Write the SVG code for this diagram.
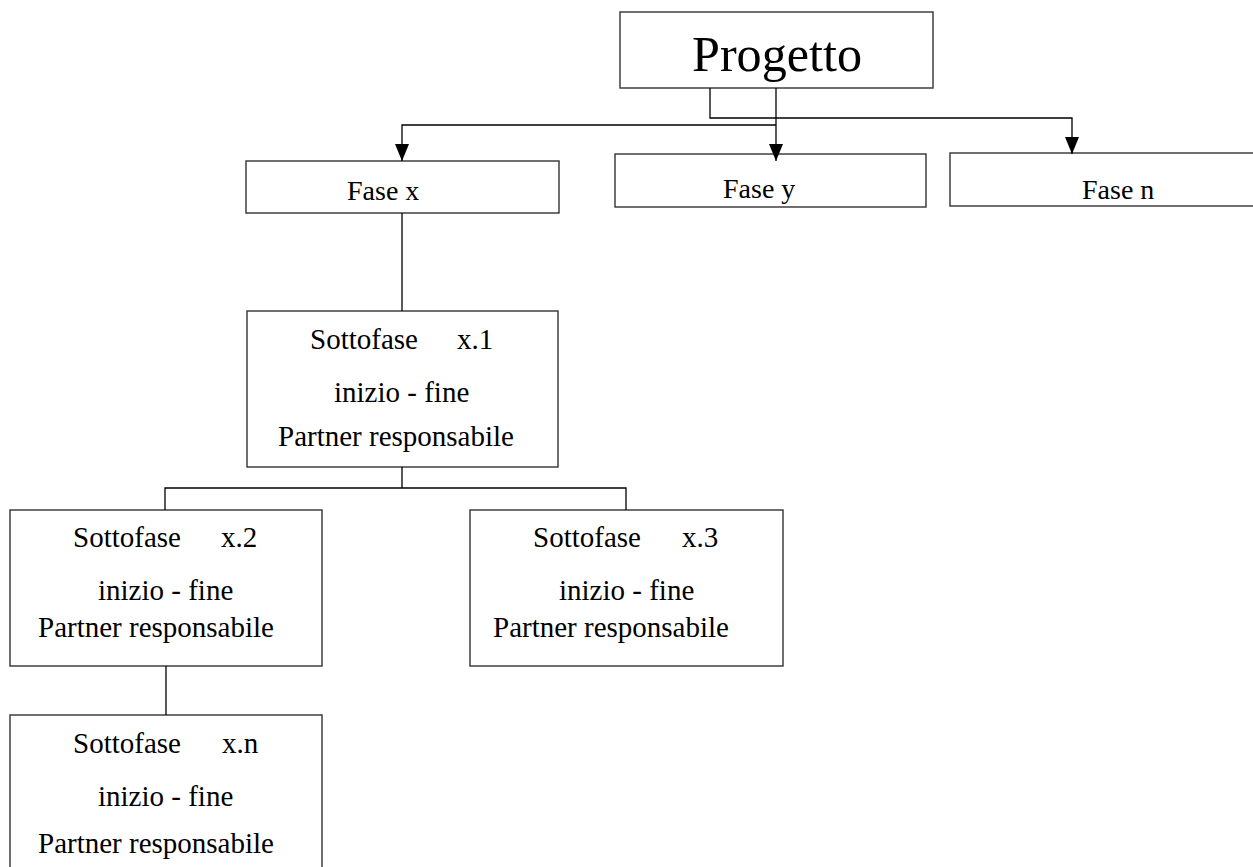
<svg xmlns="http://www.w3.org/2000/svg" width="1253" height="867" viewBox="0 0 1253 867">
<style>
.box{fill:#fff;stroke:#333;stroke-width:1.4}
.t{font-family:"Liberation Serif","Times New Roman",serif;fill:#000;font-size:29px}
.f{font-size:28px}
.p{font-size:51px}
.c{fill:none;stroke:#000;stroke-width:1.3}
</style>
<defs>
<marker id="ah" markerUnits="userSpaceOnUse" markerWidth="18" markerHeight="16" viewBox="0 -8 18 16" refX="17" refY="0" orient="auto">
<path d="M0,-7 L17,0 L0,7 z" fill="#000"/>
</marker>
</defs>
<rect width="1253" height="867" fill="#fff"/>
<g id="nodes">
<g id="progetto"><rect class="box" x="620" y="12" width="313" height="76"/><text class="t p" x="692" y="71" textLength="170" lengthAdjust="spacingAndGlyphs">Progetto</text></g>
<g id="fase-x"><rect class="box" x="246" y="161" width="313" height="52"/><text class="t f" x="347" y="200">Fase x</text></g>
<g id="fase-y"><rect class="box" x="615" y="154" width="311" height="53"/><text class="t f" x="723" y="198">Fase y</text></g>
<g id="fase-n"><rect class="box" x="950" y="153" width="320" height="53"/><text class="t f" x="1082" y="199">Fase n</text></g>
<g id="sottofase-x1"><rect class="box" x="247" y="311" width="311" height="156"/>
<text class="t" x="310" y="349">Sottofase</text><text class="t" x="457" y="349">x.1</text>
<text class="t" x="334" y="402">inizio - fine</text>
<text class="t" x="278" y="446">Partner responsabile</text></g>
<g id="sottofase-x2"><rect class="box" x="10" y="510" width="312" height="156"/>
<text class="t" x="73" y="547">Sottofase</text><text class="t" x="221" y="547">x.2</text>
<text class="t" x="98" y="600">inizio - fine</text>
<text class="t" x="38" y="637">Partner responsabile</text></g>
<g id="sottofase-x3"><rect class="box" x="470" y="510" width="313" height="156"/>
<text class="t" x="533" y="547">Sottofase</text><text class="t" x="682" y="547">x.3</text>
<text class="t" x="559" y="600">inizio - fine</text>
<text class="t" x="493" y="637">Partner responsabile</text></g>
<g id="sottofase-xn"><rect class="box" x="10" y="715" width="312" height="170"/>
<text class="t" x="73" y="753">Sottofase</text><text class="t" x="222" y="753">x.n</text>
<text class="t" x="98" y="806">inizio - fine</text>
<text class="t" x="38" y="853">Partner responsabile</text></g>
</g>
<g id="connectors">
<path class="c" d="M710,88 V118 H1072 V154" marker-end="url(#ah)"/>
<path class="c" d="M776,88 V161" marker-end="url(#ah)"/>
<path class="c" d="M776,125 H402 V161" marker-end="url(#ah)"/>
<path class="c" d="M402,213 V311"/>
<path class="c" d="M402,467 V488 M165,510 V488 H626 V510"/>
<path class="c" d="M166,666 V715"/>
</g>
</svg>
